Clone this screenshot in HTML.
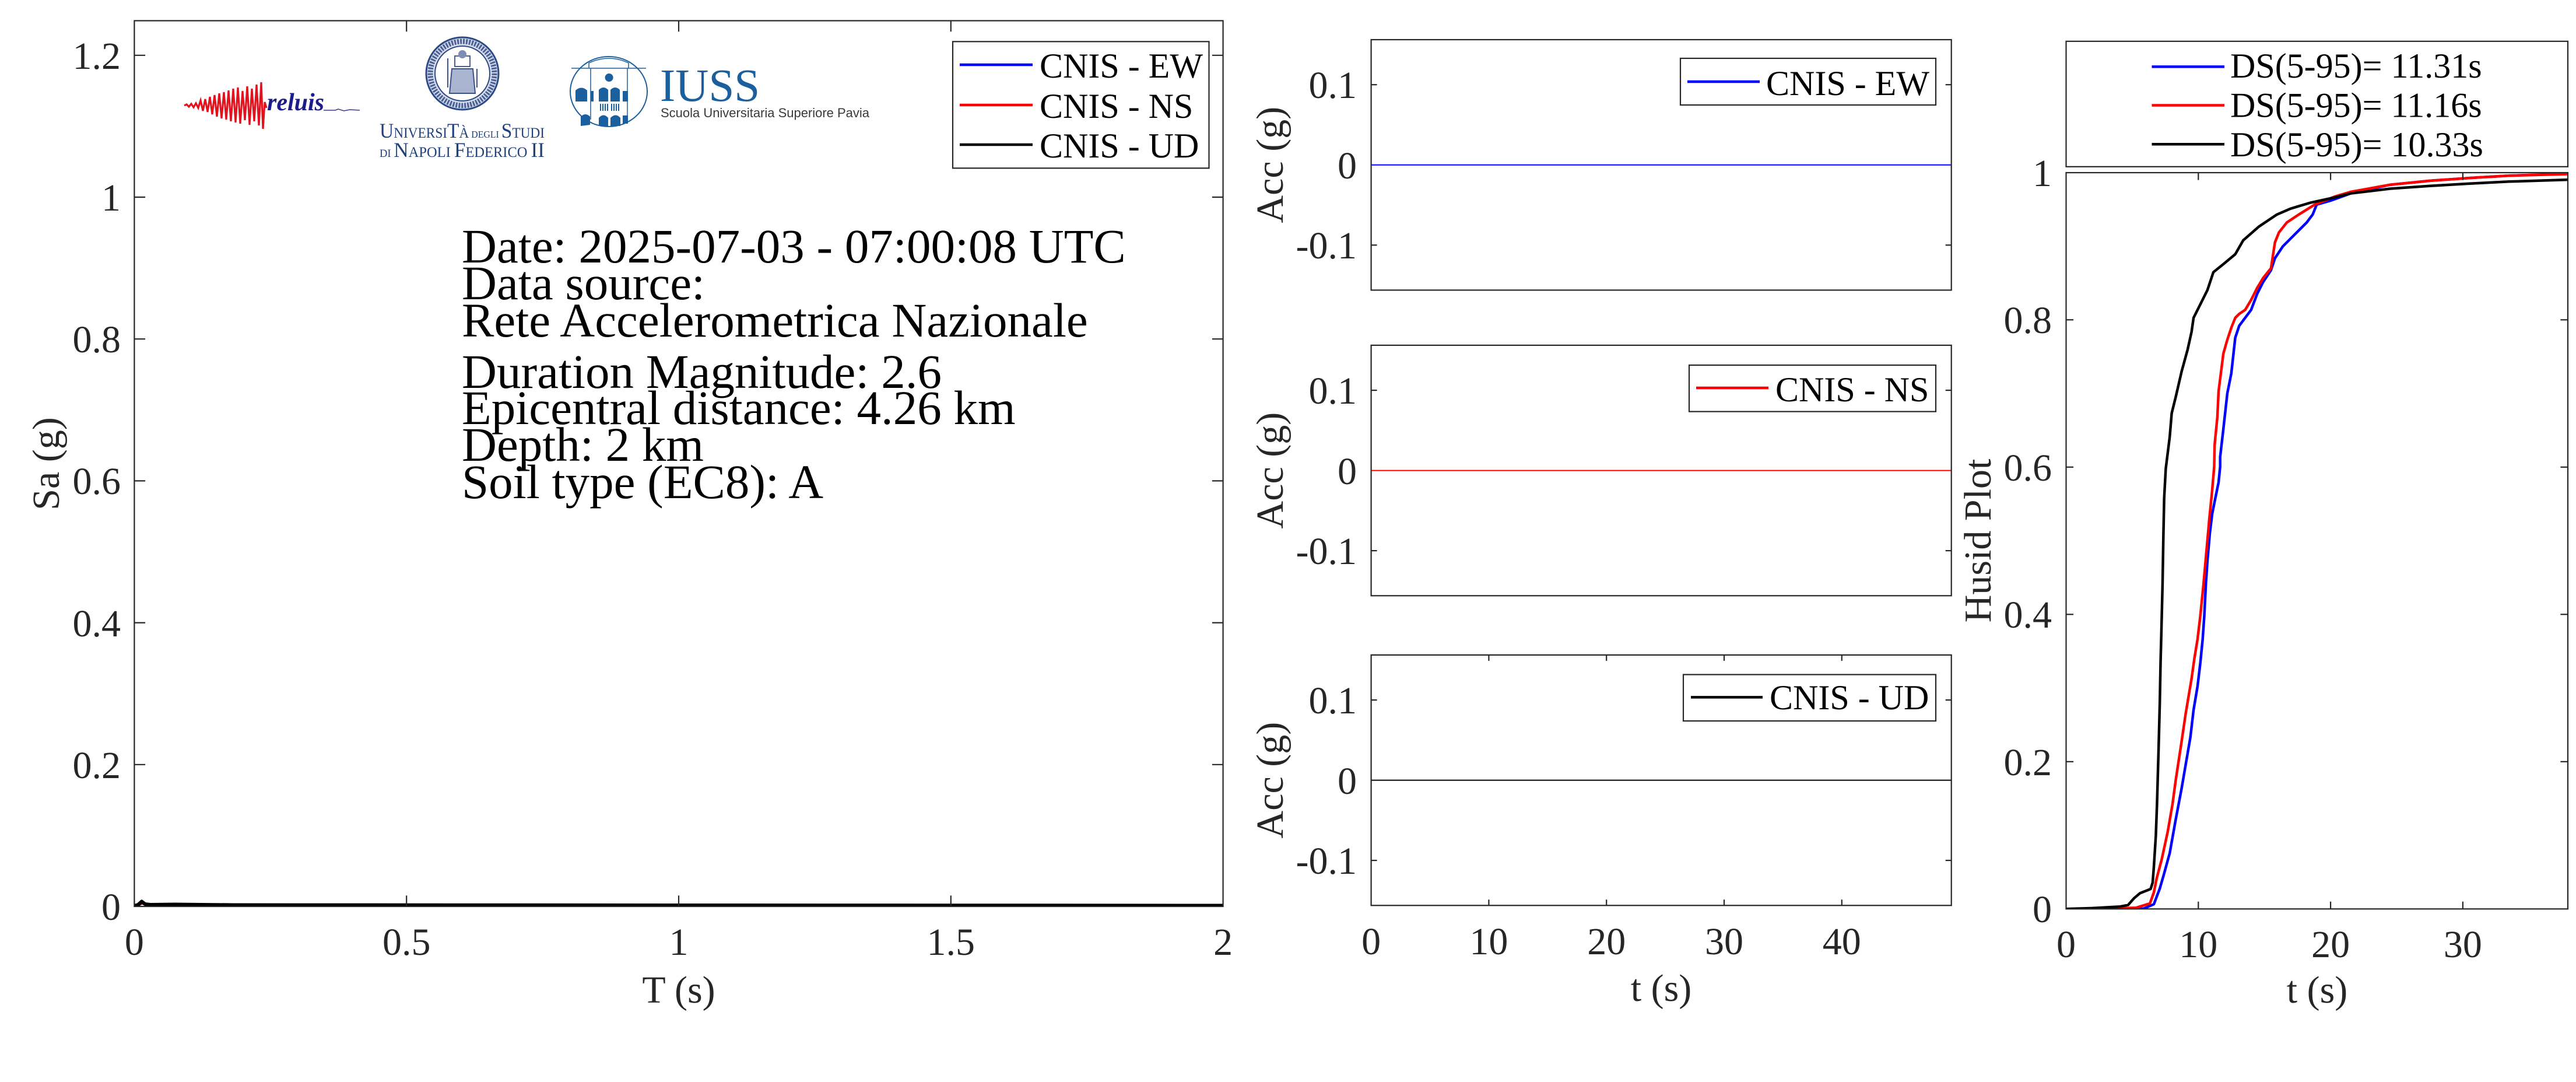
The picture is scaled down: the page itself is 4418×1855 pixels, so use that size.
<!DOCTYPE html>
<html>
<head>
<meta charset="utf-8">
<style>
html,body{margin:0;padding:0;background:#fff;}
svg{display:block;}
text{font-family:"Liberation Serif","Times New Roman",serif;}
</style>
</head>
<body>
<svg xmlns="http://www.w3.org/2000/svg" width="4418" height="1855" viewBox="0 0 4418 1855">
<rect x="0" y="0" width="4418" height="1855" fill="#fff"/>
<defs>
  <clipPath id="clipL"><rect x="230.4" y="35.5" width="1867.2" height="1518.5"/></clipPath>
  <clipPath id="clipR"><rect x="3543.5" y="296" width="860.5" height="1262.3"/></clipPath>
</defs>

<!-- ================= LEFT PLOT ================= -->
<g clip-path="url(#clipL)">
  <polyline fill="none" stroke="#0000ff" stroke-width="5" points="230.4,1553 238,1551 244,1548 250,1551 300,1552 2097.6,1553"/>
  <polyline fill="none" stroke="#ff0000" stroke-width="5" points="230.4,1553 238,1551 244,1547 250,1551 300,1552 2097.6,1553"/>
  <polyline fill="none" stroke="#000000" stroke-width="6" stroke-linejoin="round" points="230.4,1553 237,1551 243,1545.5 249,1550 258,1551 300,1550.5 400,1551.5 2097.6,1552.5"/>
</g>
<g stroke="#262626" stroke-width="2.2" fill="none">
  <rect x="230.4" y="35.5" width="1867.2" height="1518.5"/>
  <line x1="697.2" y1="1554" x2="697.2" y2="1535.3"/>
  <line x1="1164" y1="1554" x2="1164" y2="1535.3"/>
  <line x1="1630.8" y1="1554" x2="1630.8" y2="1535.3"/>
  <line x1="697.2" y1="35.5" x2="697.2" y2="54.2"/>
  <line x1="1164" y1="35.5" x2="1164" y2="54.2"/>
  <line x1="1630.8" y1="35.5" x2="1630.8" y2="54.2"/>
  <line x1="230.4" y1="1310.8" x2="249.1" y2="1310.8"/>
  <line x1="230.4" y1="1067.6" x2="249.1" y2="1067.6"/>
  <line x1="230.4" y1="824.4" x2="249.1" y2="824.4"/>
  <line x1="230.4" y1="581.2" x2="249.1" y2="581.2"/>
  <line x1="230.4" y1="338" x2="249.1" y2="338"/>
  <line x1="230.4" y1="94.8" x2="249.1" y2="94.8"/>
  <line x1="2097.6" y1="1310.8" x2="2078.9" y2="1310.8"/>
  <line x1="2097.6" y1="1067.6" x2="2078.9" y2="1067.6"/>
  <line x1="2097.6" y1="824.4" x2="2078.9" y2="824.4"/>
  <line x1="2097.6" y1="581.2" x2="2078.9" y2="581.2"/>
  <line x1="2097.6" y1="338" x2="2078.9" y2="338"/>
  <line x1="2097.6" y1="94.8" x2="2078.9" y2="94.8"/>
</g>
<g fill="#262626" font-size="66" text-anchor="end">
  <text x="207" y="1577">0</text>
  <text x="207" y="1334">0.2</text>
  <text x="207" y="1091">0.4</text>
  <text x="207" y="847">0.6</text>
  <text x="207" y="604">0.8</text>
  <text x="207" y="361">1</text>
  <text x="207" y="118">1.2</text>
</g>
<g fill="#262626" font-size="66" text-anchor="middle">
  <text x="230.4" y="1637">0</text>
  <text x="697.2" y="1637">0.5</text>
  <text x="1164" y="1637">1</text>
  <text x="1630.8" y="1637">1.5</text>
  <text x="2097.6" y="1637">2</text>
  <text x="1164" y="1719">T (s)</text>
  <text transform="translate(101,795) rotate(-90)">Sa (g)</text>
</g>

<!-- logos -->
<g>
  <polyline fill="none" stroke="#e0141e" stroke-width="3.2" stroke-linejoin="miter" points="316,181 320,179 324,183 328,178 332,184 336,177 340,185 344,172 348,190 352,170 356,192 360,166 364,196 368,163 372,200 376,160 380,203 384,158 388,205 392,155 396,208 400,152 404,210 408,150 412,212 416,156 420,206 424,148 428,214 432,152 436,208 440,145 444,215 448,141 451,221 454,175 457,185"/>
  <text x="458" y="189" font-size="42" font-weight="bold" font-style="italic" fill="#1c1c8a">reluis</text>
  <polyline fill="none" stroke="#3a3a8a" stroke-width="1.5" points="555,189 575,189 580,187 590,190 600,188 617,189"/>
</g>
<g>
  <circle cx="793" cy="126" r="62" fill="#d6dcea" stroke="#2b4a86" stroke-width="3"/>
  <circle cx="793" cy="126" r="55" fill="none" stroke="#4a6096" stroke-width="9" stroke-dasharray="3 2"/>
  <circle cx="793" cy="126" r="47" fill="#ffffff" stroke="#2b4a86" stroke-width="2"/>
  <rect x="780" y="96" width="26" height="18" fill="none" stroke="#4a5f90" stroke-width="2"/>
  <path d="M775 118 L811 118 L815 160 L771 160 Z" fill="#a9b5d0" stroke="#3b5289" stroke-width="2"/>
  <circle cx="793" cy="93" r="7" fill="#7d8db5"/>
  <line x1="768" y1="100" x2="768" y2="150" stroke="#3b5289" stroke-width="2"/>
  <line x1="818" y1="118" x2="818" y2="150" stroke="#3b5289" stroke-width="2"/>
  <text x="651" y="236" font-size="36" fill="#1f3f7f" textLength="283" lengthAdjust="spacingAndGlyphs">U<tspan font-size="25">NIVERSI</tspan>T<tspan font-size="25">À</tspan><tspan font-size="17"> DEGLI </tspan>S<tspan font-size="25">TUDI</tspan></text>
  <text x="651" y="269" font-size="36" fill="#1f3f7f" textLength="283" lengthAdjust="spacingAndGlyphs"><tspan font-size="19">DI </tspan>N<tspan font-size="25">APOLI </tspan>F<tspan font-size="25">EDERICO </tspan>II</text>
</g>
<g>
  <ellipse cx="1044" cy="157" rx="66" ry="60" fill="#fff" stroke="#1b5f9e" stroke-width="2"/>
  <line x1="980" y1="117" x2="1108" y2="117" stroke="#1b5f9e" stroke-width="1.5"/>
  <path d="M1010 117 L1010 108 Q1044 92 1078 108 L1078 117" fill="none" stroke="#1b5f9e" stroke-width="1.5"/>
  <line x1="1013" y1="117" x2="1013" y2="205" stroke="#1b5f9e" stroke-width="1.5"/>
  <line x1="1076" y1="117" x2="1076" y2="205" stroke="#1b5f9e" stroke-width="1.5"/>
  <circle cx="1044.6" cy="133" r="7" fill="#1b5f9e"/>
  <g fill="#1b5f9e">
    <path d="M987 174 L987 155 Q997 146 1007 155 L1007 174 Z"/>
    <rect x="1013" y="156" width="5" height="18"/>
    <path d="M1027 174 L1027 154 Q1035 146 1043 154 L1043 174 Z"/>
    <path d="M1047 174 L1047 154 Q1055 146 1063 154 L1063 174 Z"/>
    <rect x="1068" y="156" width="9" height="18"/>
    <rect x="1029" y="178" width="2" height="12"/><rect x="1033" y="178" width="2" height="12"/><rect x="1037" y="178" width="2" height="12"/><rect x="1041" y="178" width="2" height="12"/>
    <rect x="1048" y="178" width="2" height="12"/><rect x="1052" y="178" width="2" height="12"/><rect x="1056" y="178" width="2" height="12"/><rect x="1060" y="178" width="2" height="12"/>
    <path d="M996 216 L996 200 Q1004 192 1012 200 L1012 214 Z"/>
    <path d="M1027 216 L1027 202 Q1035 193 1043 202 L1043 216 Z"/>
    <path d="M1047 216 L1047 202 Q1056 193 1064 202 L1064 216 Z"/>
    <rect x="1068" y="198" width="9" height="14"/>
  </g>
  <text x="1132" y="173" font-size="79" fill="#1b5f9e">IUSS</text>
  <text x="1133" y="201" font-size="22" fill="#3a3a3a" style="font-family:'Liberation Sans',Arial,sans-serif" textLength="358" lengthAdjust="spacingAndGlyphs">Scuola Universitaria Superiore Pavia</text>
</g>

<!-- info text -->
<g fill="#000" font-size="83">
  <text x="792" y="450">Date: 2025-07-03 - 07:00:08 UTC</text>
  <text x="792" y="513">Data source:</text>
  <text x="792" y="577">Rete Accelerometrica Nazionale</text>
  <text x="792" y="665">Duration Magnitude: 2.6</text>
  <text x="792" y="727">Epicentral distance: 4.26 km</text>
  <text x="792" y="790">Depth: 2 km</text>
  <text x="792" y="854">Soil type (EC8): A</text>
</g>

<!-- left legend -->
<rect x="1634" y="71.3" width="439.5" height="217" fill="#fff" stroke="#262626" stroke-width="2.2"/>
<line x1="1646" y1="111" x2="1771" y2="111" stroke="#0000ff" stroke-width="4.5"/>
<line x1="1646" y1="180" x2="1771" y2="180" stroke="#ff0000" stroke-width="4.5"/>
<line x1="1646" y1="248" x2="1771" y2="248" stroke="#000000" stroke-width="4.5"/>
<g fill="#000" font-size="60">
  <text x="1783" y="133">CNIS - EW</text>
  <text x="1783" y="202">CNIS - NS</text>
  <text x="1783" y="270">CNIS - UD</text>
</g>

<!-- ================= MIDDLE PANELS ================= -->
<line x1="2351.6" y1="282.7" x2="3346.7" y2="282.7" stroke="#0000ff" stroke-width="2"/>
<g stroke="#262626" stroke-width="2.2" fill="none">
  <rect x="2351.6" y="68" width="995.1" height="429.4"/>
  <line x1="2351.6" y1="145.2" x2="2361.6" y2="145.2"/><line x1="3346.7" y1="145.2" x2="3336.7" y2="145.2"/>
  <line x1="2351.6" y1="420.2" x2="2361.6" y2="420.2"/><line x1="3346.7" y1="420.2" x2="3336.7" y2="420.2"/>
</g>
<g fill="#262626" font-size="66" text-anchor="end">
  <text x="2327" y="168">0.1</text>
  <text x="2327" y="306">0</text>
  <text x="2327" y="443">-0.1</text>
</g>
<text transform="translate(2200,282.7) rotate(-90)" fill="#262626" font-size="66" text-anchor="middle">Acc (g)</text>
<rect x="2882" y="100" width="438" height="80" fill="#fff" stroke="#262626" stroke-width="2.2"/>
<line x1="2894" y1="140" x2="3018" y2="140" stroke="#0000ff" stroke-width="4.5"/>
<text x="3029" y="163" font-size="60" fill="#000">CNIS - EW</text>

<line x1="2351.6" y1="806.6" x2="3346.7" y2="806.6" stroke="#ff0000" stroke-width="2"/>
<g stroke="#262626" stroke-width="2.2" fill="none">
  <rect x="2351.6" y="591.9" width="995.1" height="429.4"/>
  <line x1="2351.6" y1="669.1" x2="2361.6" y2="669.1"/><line x1="3346.7" y1="669.1" x2="3336.7" y2="669.1"/>
  <line x1="2351.6" y1="944.1" x2="2361.6" y2="944.1"/><line x1="3346.7" y1="944.1" x2="3336.7" y2="944.1"/>
</g>
<g fill="#262626" font-size="66" text-anchor="end">
  <text x="2327" y="692">0.1</text>
  <text x="2327" y="830">0</text>
  <text x="2327" y="967">-0.1</text>
</g>
<text transform="translate(2200,806.6) rotate(-90)" fill="#262626" font-size="66" text-anchor="middle">Acc (g)</text>
<rect x="2897" y="626" width="423" height="79.6" fill="#fff" stroke="#262626" stroke-width="2.2"/>
<line x1="2909" y1="665" x2="3033" y2="665" stroke="#ff0000" stroke-width="4.5"/>
<text x="3045" y="688" font-size="60" fill="#000">CNIS - NS</text>

<line x1="2351.6" y1="1337.6" x2="3346.7" y2="1337.6" stroke="#000000" stroke-width="2"/>
<g stroke="#262626" stroke-width="2.2" fill="none">
  <rect x="2351.6" y="1122.9" width="995.1" height="429.4"/>
  <line x1="2351.6" y1="1200.1" x2="2361.6" y2="1200.1"/><line x1="3346.7" y1="1200.1" x2="3336.7" y2="1200.1"/>
  <line x1="2351.6" y1="1475.1" x2="2361.6" y2="1475.1"/><line x1="3346.7" y1="1475.1" x2="3336.7" y2="1475.1"/>
  <line x1="2553.4" y1="1552.3" x2="2553.4" y2="1542.3"/><line x1="2755.2" y1="1552.3" x2="2755.2" y2="1542.3"/>
  <line x1="2957" y1="1552.3" x2="2957" y2="1542.3"/><line x1="3158.8" y1="1552.3" x2="3158.8" y2="1542.3"/>
  <line x1="2553.4" y1="1122.9" x2="2553.4" y2="1132.9"/><line x1="2755.2" y1="1122.9" x2="2755.2" y2="1132.9"/>
  <line x1="2957" y1="1122.9" x2="2957" y2="1132.9"/><line x1="3158.8" y1="1122.9" x2="3158.8" y2="1132.9"/>
</g>
<g fill="#262626" font-size="66" text-anchor="end">
  <text x="2327" y="1223">0.1</text>
  <text x="2327" y="1361">0</text>
  <text x="2327" y="1498">-0.1</text>
</g>
<text transform="translate(2200,1337.6) rotate(-90)" fill="#262626" font-size="66" text-anchor="middle">Acc (g)</text>
<rect x="2887" y="1156.5" width="433" height="79.5" fill="#fff" stroke="#262626" stroke-width="2.2"/>
<line x1="2900" y1="1195.4" x2="3023" y2="1195.4" stroke="#000000" stroke-width="4.5"/>
<text x="3035" y="1216" font-size="60" fill="#000">CNIS - UD</text>
<g fill="#262626" font-size="66" text-anchor="middle">
  <text x="2351.6" y="1636">0</text>
  <text x="2553.4" y="1636">10</text>
  <text x="2755.2" y="1636">20</text>
  <text x="2957" y="1636">30</text>
  <text x="3158.8" y="1636">40</text>
  <text x="2849" y="1716">t (s)</text>
</g>

<!-- ================= RIGHT (HUSID) PLOT ================= -->
<g clip-path="url(#clipR)" fill="none" stroke-linejoin="round" stroke-linecap="round" stroke-width="4.5">
  <polyline stroke="#0000ff" points="3543.4,1558.3 3636.1,1558.3 3676.9,1557.6 3694.0,1550.2 3704.2,1523.3 3711.0,1499.7 3721.2,1462.7 3731.4,1405.5 3741.6,1351.7 3748.5,1311.4 3756.6,1264.3 3762.1,1217.2 3768.9,1176.8 3773.7,1136.4 3777.7,1096.0 3780.5,1055.7 3783.2,1001.8 3785.9,961.5 3790.0,914.4 3794.1,880.7 3799.5,853.8 3805.0,826.9 3807.7,800 3807.7,783.3 3813.2,735.6 3820.0,674.3 3826.8,640.3 3833.6,578.9 3840.4,558.5 3850.6,544.9 3860.8,531.3 3871.1,504.0 3881.3,483.6 3894.9,463.2 3901.7,442.7 3915.3,422.3 3928.9,408.7 3942.6,395.0 3956.2,381.4 3966.4,367.8 3973.2,350.8 3997.1,344.0 4031.1,331.7 4099.2,316.7 4167.3,309.9 4235.5,305.1 4303.6,301.1 4412.5,297.6"/>
  <polyline stroke="#ff0000" points="3543.4,1558.3 3622.4,1557.6 3663.3,1556.3 3687.2,1548.9 3694.0,1530.0 3698.7,1506.5 3707.6,1472.8 3717.8,1425.7 3726.0,1378.6 3731.4,1338.3 3741.6,1271.0 3748.5,1223.9 3758.7,1163.3 3763.4,1129.7 3768.9,1096.0 3773.7,1055.7 3779.1,1001.8 3783.9,948.0 3789.3,887.5 3793.4,847.1 3797.5,800 3798.2,762.9 3802.9,715.2 3805.0,670.9 3813.2,606.2 3820.0,582.4 3826.8,561.9 3833.6,544.9 3840.4,538.1 3850.6,531.3 3860.8,514.2 3871.1,493.8 3881.3,476.8 3894.9,459.8 3901.7,415.5 3908.5,398.5 3922.1,381.4 3942.6,367.8 3969.8,350.8 4003.9,337.2 4031.1,329.0 4099.2,316.7 4167.3,309.9 4235.5,305.1 4303.6,301.1 4412.5,298.3"/>
  <polyline stroke="#000000" points="3543.4,1558.3 3588.4,1556.9 3636.1,1554.2 3649.7,1551.6 3659.9,1540.1 3670.1,1531.4 3683.7,1526.0 3688.5,1524.0 3691.9,1513.2 3694.0,1486.3 3697.4,1432.5 3699.4,1378.6 3702.1,1284.4 3704.2,1203.7 3705.5,1136.4 3706.9,1082.6 3708.9,1001.8 3710.3,921.1 3711.7,853.8 3714.4,803.7 3721.2,749.2 3724.6,708.4 3731.4,681.1 3741.6,636.9 3751.9,599.4 3758.7,568.7 3762.1,544.9 3775.7,517.7 3785.9,497.2 3792.7,476.8 3796.1,466.6 3813.2,452.9 3833.6,435.9 3847.2,412.1 3874.5,388.2 3905.1,367.8 3928.8,357.6 3963.0,347.4 4003.9,338.5 4031.1,331.7 4099.2,323.5 4167.3,318.8 4235.5,314.7 4303.6,311.3 4412.5,307.9"/>
</g>
<g stroke="#262626" stroke-width="2.2" fill="none">
  <rect x="3543.5" y="296" width="860.5" height="1262.3"/>
  <line x1="3770.3" y1="1558.3" x2="3770.3" y2="1545.7"/><line x1="3997.1" y1="1558.3" x2="3997.1" y2="1545.7"/><line x1="4223.9" y1="1558.3" x2="4223.9" y2="1545.7"/>
  <line x1="3770.3" y1="296" x2="3770.3" y2="308.6"/><line x1="3997.1" y1="296" x2="3997.1" y2="308.6"/><line x1="4223.9" y1="296" x2="4223.9" y2="308.6"/>
  <line x1="3543.5" y1="1305.8" x2="3556.1" y2="1305.8"/><line x1="4404" y1="1305.8" x2="4391.4" y2="1305.8"/>
  <line x1="3543.5" y1="1053.3" x2="3556.1" y2="1053.3"/><line x1="4404" y1="1053.3" x2="4391.4" y2="1053.3"/>
  <line x1="3543.5" y1="800.8" x2="3556.1" y2="800.8"/><line x1="4404" y1="800.8" x2="4391.4" y2="800.8"/>
  <line x1="3543.5" y1="548.3" x2="3556.1" y2="548.3"/><line x1="4404" y1="548.3" x2="4391.4" y2="548.3"/>
</g>
<g fill="#262626" font-size="66" text-anchor="end">
  <text x="3519" y="1581">0</text>
  <text x="3519" y="1329">0.2</text>
  <text x="3519" y="1076">0.4</text>
  <text x="3519" y="824">0.6</text>
  <text x="3519" y="571">0.8</text>
  <text x="3519" y="319">1</text>
</g>
<g fill="#262626" font-size="66" text-anchor="middle">
  <text x="3543.5" y="1641">0</text>
  <text x="3770.3" y="1641">10</text>
  <text x="3997.1" y="1641">20</text>
  <text x="4223.9" y="1641">30</text>
  <text x="3974" y="1719">t (s)</text>
  <text transform="translate(3414,927) rotate(-90)">Husid Plot</text>
</g>
<rect x="3543.5" y="70.8" width="860.5" height="215" fill="#fff" stroke="#262626" stroke-width="2.2"/>
<line x1="3690.5" y1="114.4" x2="3815" y2="114.4" stroke="#0000ff" stroke-width="4.5"/>
<line x1="3690.5" y1="180.5" x2="3815" y2="180.5" stroke="#ff0000" stroke-width="4.5"/>
<line x1="3690.5" y1="247.2" x2="3815" y2="247.2" stroke="#000000" stroke-width="4.5"/>
<g fill="#000" font-size="60">
  <text x="3825" y="133">DS(5-95)= 11.31s</text>
  <text x="3825" y="200.5">DS(5-95)= 11.16s</text>
  <text x="3825" y="268">DS(5-95)= 10.33s</text>
</g>
</svg>
</body>
</html>
